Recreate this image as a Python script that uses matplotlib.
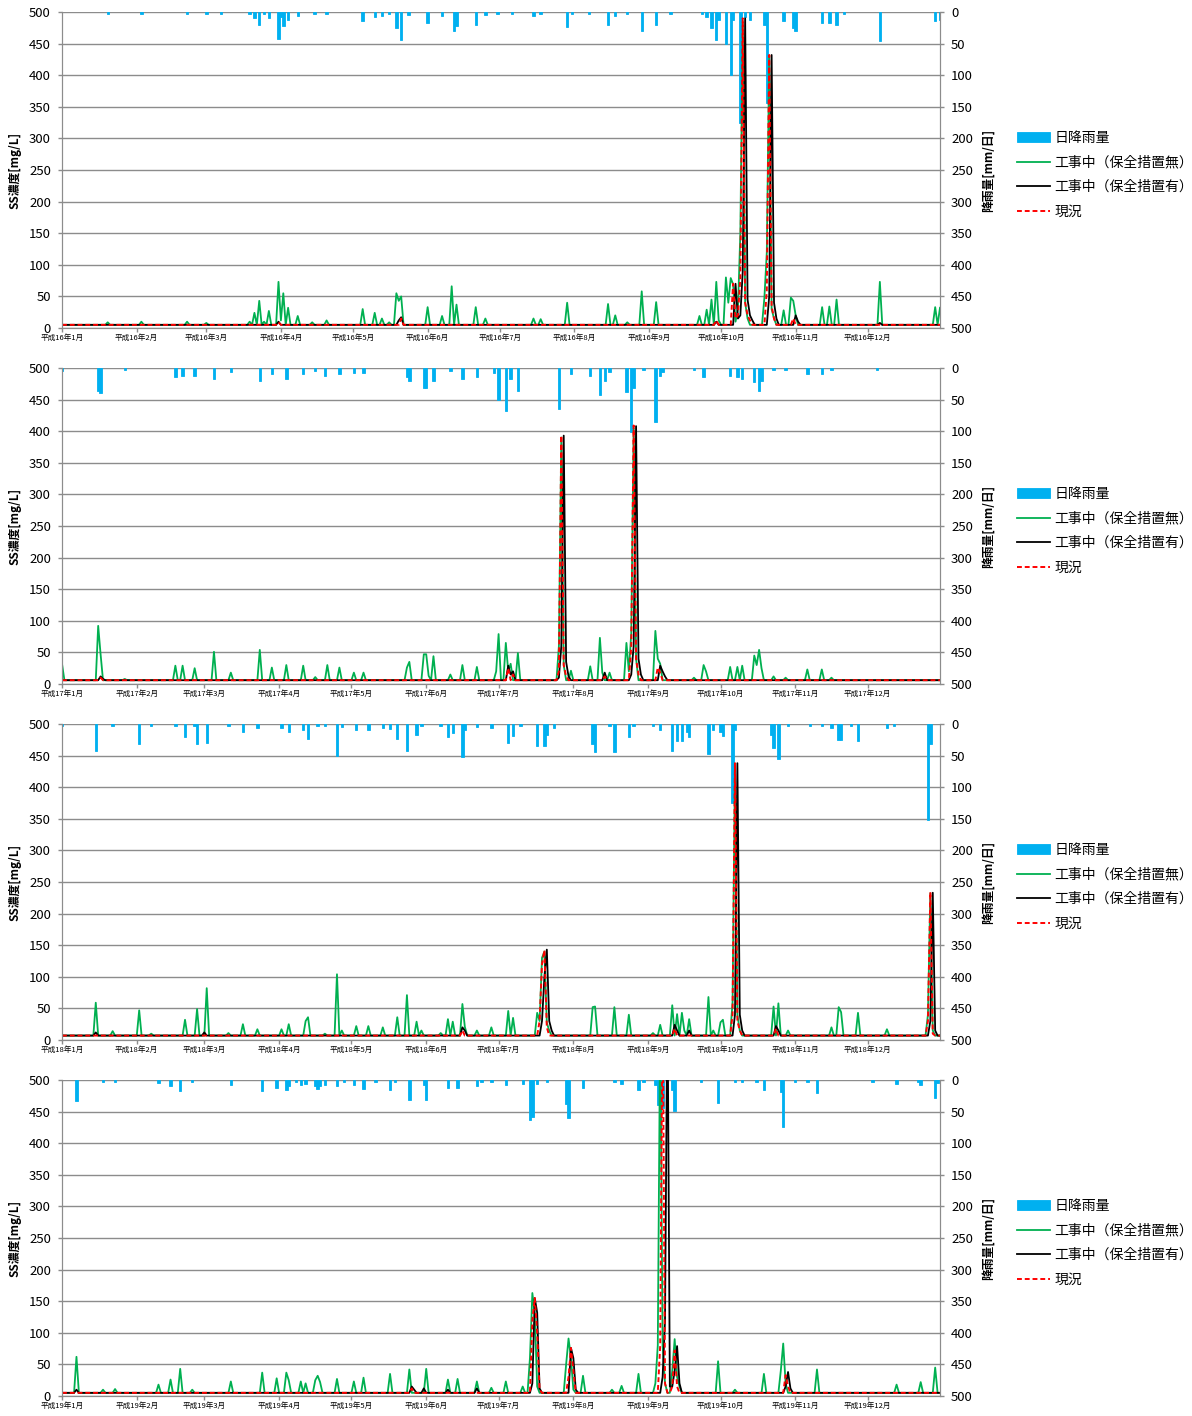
import numpy as np
import matplotlib
matplotlib.use('Agg')
import matplotlib.pyplot as plt

plt.rcParams['font.family'] = ['Noto Sans CJK JP', 'DejaVu Sans']

# (day of year, value) pairs; all other days sit at the baseline
years = [2004, 2005, 2006, 2007]
heisei = [16, 17, 18, 19]
baselines = [5, 6, 7, 5]

rain_h16 = [(19, 3), (33, 3), (52, 3), (60, 3), (66, 3), (78, 3), (80, 10), (82, 20), (84, 3), (86, 10),
            (90, 42), (91, 8), (92, 22), (94, 12), (98, 6), (105, 3), (110, 3), (125, 14), (130, 8), (133, 6),
            (136, 3), (139, 26), (141, 45), (144, 4), (152, 17), (158, 6), (163, 30), (164, 22), (172, 20),
            (176, 5), (181, 3), (187, 3), (196, 6), (199, 3), (210, 24), (212, 3), (219, 3), (227, 21), (230, 6),
            (235, 3), (241, 30), (247, 20), (253, 3), (266, 3), (268, 8), (270, 25), (272, 45), (273, 12),
            (276, 50), (278, 99), (279, 12), (282, 176), (284, 8), (286, 12), (292, 20), (293, 144), (300, 14),
            (304, 25), (305, 30), (316, 17), (319, 17), (322, 21), (325, 3), (340, 46), (363, 14), (365, 12)]
green_h16 = [(19, 9), (33, 10), (52, 10), (60, 8), (78, 10), (80, 24), (82, 43), (84, 10), (86, 27), (90, 73),
             (91, 12), (92, 55), (94, 32), (98, 19), (104, 9), (110, 12), (125, 30), (130, 24), (133, 15),
             (136, 9), (139, 55), (140, 43), (141, 50), (152, 33), (158, 19), (162, 66), (164, 37), (172, 33),
             (176, 15), (196, 15), (199, 14), (210, 40), (227, 38), (230, 20), (235, 9), (241, 58), (247, 41),
             (265, 19), (268, 29), (270, 45), (272, 73), (273, 12), (276, 80), (277, 40), (278, 79), (279, 69),
             (280, 10), (281, 30), (282, 150), (283, 485), (284, 40), (285, 15), (292, 48), (293, 120),
             (294, 430), (295, 30), (296, 15), (300, 28), (303, 48), (304, 43), (305, 20), (316, 33), (319, 34),
             (322, 45), (340, 73), (363, 33), (365, 32)]
black_h16 = [(90, 10), (140, 12), (141, 17), (272, 10), (280, 70), (281, 15), (282, 20), (283, 90), (284, 490),
             (285, 45), (286, 20), (287, 12), (294, 50), (295, 432), (296, 40), (297, 15), (305, 20), (306, 10),
             (340, 8)]
red_h16 = [(90, 9), (141, 15), (272, 12), (279, 70), (280, 15), (281, 20), (282, 80), (283, 490), (284, 40),
           (285, 20), (286, 12), (293, 60), (294, 432), (295, 35), (296, 15), (304, 15)]

rain_h17 = [(0, 5), (15, 36), (16, 40), (26, 3), (47, 14), (50, 13), (55, 12), (63, 17), (70, 6), (82, 20),
            (87, 10), (93, 17), (100, 10), (105, 5), (109, 12), (115, 10), (121, 8), (125, 8), (143, 14),
            (144, 20), (150, 32), (151, 32), (154, 21), (161, 5), (166, 17), (172, 15), (179, 8), (181, 51),
            (184, 68), (186, 17), (189, 36), (206, 65), (211, 10), (219, 13), (223, 42), (225, 20), (227, 6),
            (234, 38), (236, 101), (237, 32), (241, 3), (246, 85), (248, 12), (249, 6), (262, 3), (266, 15),
            (277, 13), (280, 14), (282, 17), (287, 22), (289, 37), (290, 20), (295, 3), (300, 3), (309, 10),
            (315, 10), (319, 3), (338, 3)]
green_h17 = [(0, 32), (15, 92), (16, 47), (26, 8), (47, 29), (50, 29), (55, 25), (63, 51), (70, 18), (82, 54),
             (87, 26), (93, 30), (100, 29), (105, 11), (110, 30), (115, 26), (121, 18), (125, 18), (143, 26),
             (144, 35), (150, 47), (151, 47), (152, 13), (154, 44), (161, 15), (166, 30), (172, 27), (180, 20),
             (181, 79), (184, 65), (185, 20), (186, 32), (189, 49), (206, 60), (207, 390), (208, 30), (211, 21),
             (219, 28), (223, 73), (224, 18), (227, 18), (234, 65), (235, 20), (236, 80), (237, 405), (238, 40),
             (246, 84), (247, 40), (248, 32), (262, 10), (266, 30), (267, 20), (277, 27), (280, 27), (282, 29),
             (287, 45), (288, 30), (289, 54), (290, 25), (295, 12), (300, 10), (309, 23), (315, 23), (319, 10)]
black_h17 = [(16, 12), (17, 8), (185, 29), (186, 15), (187, 20), (206, 10), (207, 60), (208, 393), (209, 35),
             (210, 12), (225, 18), (236, 15), (237, 60), (238, 408), (239, 40), (240, 15), (248, 29), (249, 20),
             (250, 12)]
red_h17 = [(16, 10), (185, 25), (187, 15), (206, 20), (207, 393), (208, 30), (209, 12), (225, 12), (236, 60),
           (237, 409), (238, 40), (239, 15), (247, 26), (248, 18)]

rain_h18 = [(0, 3), (14, 42), (21, 3), (32, 32), (37, 3), (47, 3), (51, 20), (55, 3), (56, 32), (60, 30),
            (69, 3), (75, 13), (81, 6), (91, 6), (94, 13), (100, 10), (102, 24), (106, 3), (109, 3), (114, 51),
            (116, 5), (122, 10), (127, 10), (133, 6), (136, 8), (139, 24), (143, 42), (147, 17), (149, 3),
            (157, 3), (160, 21), (162, 15), (166, 52), (167, 10), (172, 5), (178, 7), (185, 30), (187, 19),
            (190, 3), (197, 35), (200, 35), (201, 17), (204, 6), (220, 32), (221, 44), (227, 3), (229, 44),
            (235, 20), (237, 3), (245, 3), (248, 10), (253, 42), (255, 27), (257, 27), (259, 12), (260, 21),
            (268, 47), (270, 10), (273, 13), (274, 19), (278, 125), (279, 10), (294, 17), (295, 38), (297, 56),
            (301, 3), (310, 3), (315, 3), (319, 7), (322, 26), (323, 26), (327, 3), (330, 27), (342, 6),
            (345, 3), (359, 152), (360, 32)]
green_h18 = [(14, 59), (21, 14), (32, 47), (37, 10), (51, 32), (56, 49), (60, 82), (69, 11), (75, 25), (81, 17),
             (91, 17), (94, 25), (101, 30), (102, 36), (109, 10), (114, 104), (116, 15), (122, 22), (127, 22),
             (133, 20), (139, 36), (143, 71), (147, 29), (149, 15), (157, 11), (160, 33), (162, 29), (166, 57),
             (167, 21), (172, 15), (178, 20), (185, 46), (187, 35), (197, 43), (198, 30), (199, 130), (200, 140),
             (201, 27), (202, 15), (220, 52), (221, 53), (229, 52), (235, 40), (245, 11), (248, 24), (253, 55),
             (255, 41), (257, 43), (258, 15), (260, 33), (268, 68), (270, 15), (273, 28), (274, 32), (278, 60),
             (279, 435), (280, 40), (281, 15), (295, 53), (297, 58), (301, 15), (319, 20), (322, 52), (323, 44),
             (330, 43), (342, 17), (359, 40), (360, 232), (361, 15)]
black_h18 = [(14, 12), (59, 12), (166, 20), (167, 15), (199, 30), (200, 100), (201, 143), (202, 30), (203, 15),
             (254, 24), (255, 15), (260, 15), (279, 40), (280, 438), (281, 40), (282, 15), (296, 22), (297, 15),
             (360, 30), (361, 233), (362, 15)]
red_h18 = [(166, 15), (198, 30), (199, 120), (200, 142), (201, 20), (254, 18), (278, 40), (279, 438), (280, 30),
           (281, 15), (296, 18), (359, 30), (360, 234), (361, 10)]

rain_h19 = [(6, 33), (17, 3), (22, 3), (40, 5), (45, 9), (49, 18), (54, 3), (70, 8), (83, 17), (89, 12),
            (93, 16), (94, 10), (97, 3), (99, 8), (101, 7), (105, 10), (106, 14), (107, 10), (109, 8), (114, 10),
            (117, 3), (121, 8), (125, 14), (130, 3), (136, 16), (138, 3), (144, 32), (150, 8), (151, 31),
            (160, 12), (164, 12), (172, 10), (174, 3), (178, 3), (184, 8), (191, 6), (194, 63), (195, 58),
            (197, 6), (201, 3), (209, 38), (210, 60), (216, 13), (229, 3), (232, 6), (239, 16), (241, 3),
            (246, 8), (247, 39), (248, 83), (249, 45), (253, 16), (254, 49), (265, 3), (272, 37), (279, 3),
            (282, 3), (288, 3), (291, 16), (298, 19), (299, 74), (304, 3), (309, 3), (313, 20), (336, 3),
            (346, 7), (355, 3), (356, 8), (362, 29), (363, 5)]
green_h19 = [(6, 62), (17, 10), (22, 11), (40, 18), (45, 26), (49, 43), (54, 10), (70, 23), (83, 37), (89, 28),
             (93, 37), (94, 25), (99, 23), (101, 20), (105, 25), (106, 32), (107, 22), (114, 27), (121, 23),
             (125, 29), (136, 35), (144, 42), (151, 43), (160, 26), (164, 27), (172, 23), (178, 13), (184, 23),
             (191, 15), (194, 60), (195, 163), (196, 130), (197, 15), (209, 50), (210, 91), (211, 60), (212, 10),
             (216, 32), (228, 10), (232, 16), (239, 35), (246, 20), (247, 80), (248, 600), (249, 80), (250, 20),
             (253, 40), (254, 90), (255, 30), (256, 15), (272, 55), (279, 10), (291, 35), (298, 40), (299, 83),
             (300, 20), (313, 42), (346, 18), (356, 22), (362, 45)]
black_h19 = [(6, 10), (145, 15), (146, 10), (150, 12), (160, 10), (172, 12), (195, 20), (196, 155), (197, 132),
             (198, 12), (211, 76), (212, 60), (213, 10), (249, 30), (250, 120), (251, 650), (252, 15), (253, 15),
             (254, 40), (255, 79), (256, 20), (300, 15), (301, 38), (302, 12)]
red_h19 = [(145, 12), (195, 120), (196, 155), (197, 100), (198, 10), (210, 30), (211, 76), (212, 40),
           (248, 80), (249, 650), (250, 20), (253, 15), (254, 72), (255, 15), (300, 33), (301, 15)]

panels = [
    (rain_h16, green_h16, black_h16, red_h16),
    (rain_h17, green_h17, black_h17, red_h17),
    (rain_h18, green_h18, black_h18, red_h18),
    (rain_h19, green_h19, black_h19, red_h19),
]
tops = [12, 368, 724, 1080]
labels = ['日降雨量', '工事中（保全措置無）', '工事中（保全措置有）', '現況']

W, H = 1192, 1416
fig = plt.figure(figsize=(W / 100, H / 100), dpi=100)
gridc = '#8c8c8c'


def daily(pairs, n, base):
    s = np.full(n, float(base))
    for d, v in pairs:
        s[d] = v
    return s


for i, (rain, green, black, red) in enumerate(panels):
    yr = years[i]
    n = int((np.datetime64(f'{yr + 1}-01-01') - np.datetime64(f'{yr}-01-01')).astype(int))
    days = np.arange(n)
    top = tops[i]
    ax2 = fig.add_axes([62 / W, 1 - (top + 316) / H, 878 / W, 316 / H])
    ax = ax2.twinx()
    ax.yaxis.tick_left()
    ax2.yaxis.tick_right()

    rain_d = [d for d, v in rain]
    rain_v = [v for d, v in rain]
    bars = ax2.bar(rain_d, rain_v, width=1.0, color='#00B0F0', edgecolor='#00B0F0', lw=0.6, zorder=2)
    ax2.set_ylim(500, 0)
    ax2.set_yticks(range(0, 501, 50))
    ax2.set_axisbelow(True)
    ax2.grid(axis='y', color=gridc, lw=1.0)

    base = baselines[i]
    l1, = ax.plot(days, daily(green, n, base), color='#00B050', lw=1.3)
    l2, = ax.plot(days, daily(black, n, base), color='black', lw=1.3)
    l3, = ax.plot(days, daily(red, n, base), color='#FF0000', lw=1.4, ls=(0, (2.5, 1.5)))
    ax.set_ylim(0, 500)
    ax.set_yticks(range(0, 501, 50))
    ax2.set_xlim(0, n - 1)

    months = np.arange(f'{yr}-01', f'{yr + 1}-01', dtype='datetime64[M]').astype('datetime64[D]')
    mpos = (months - np.datetime64(f'{yr}-01-01')).astype(int)
    ax2.set_xticks(mpos)
    ax2.set_xticklabels([f'平成{heisei[i]}年{m}月' for m in range(1, 13)])

    for a in (ax, ax2):
        for s in a.spines.values():
            s.set_color(gridc)
        a.spines['top'].set_visible(False)
        a.tick_params(colors=gridc, labelcolor='black', length=3, width=1.0, labelsize=9.5, pad=5)
    ax2.tick_params(axis='x', labelsize=5.5, pad=1)

    ax.legend([bars, l1, l2, l3], labels,
              loc='center left', bbox_to_anchor=(1 + 77 / 878, 0.485), frameon=False,
              fontsize=10, handlelength=2.4, handletextpad=0.3, labelspacing=0.75,
              borderpad=0, borderaxespad=0)

    cy = 1 - (top + 158) / H
    fig.text(15 / W, cy, 'SS濃度[mg/L]', rotation=90, ha='center', va='center',
             fontsize=8.5, fontweight='bold')
    fig.text(988 / W, cy, '降雨量[mm/日]', rotation=90, ha='center', va='center',
             fontsize=8.5, fontweight='bold')

fig.savefig('out.png', dpi=100)
